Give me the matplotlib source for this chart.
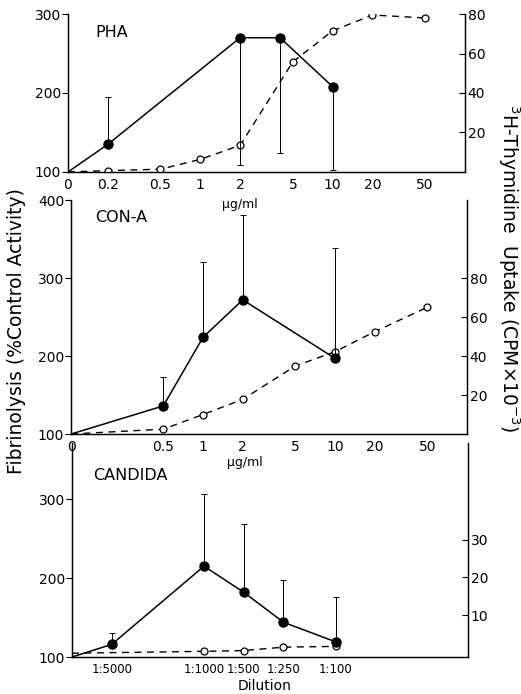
import matplotlib
matplotlib.use("Agg")
import matplotlib.pyplot as plt
import numpy as np

plt.rcParams['font.family'] = ['DejaVu Sans']

# PHA
pha_dose = [0, 0.2, 2, 4, 10]
pha_fib = [100, 135, 270, 270, 208]
pha_err_lo = [0, 0, 161, 146, 105]
pha_err_hi = [0, 60, 0, 0, 0]
pha_thy_dose = [0, 0.2, 0.5, 1, 2, 5, 10, 20, 50]
pha_thy = [0, 0.7, 1.4, 6.4, 13.5, 55.8, 71.5, 79.5, 78]
pha_ticks = [0, 0.2, 0.5, 1, 2, 5, 10, 20, 50]
pha_ticklabels = ["0", "0.2", "0.5", "1", "2", "5", "10", "20", "50"]

# CON-A
cona_dose = [0, 0.5, 1, 2, 10]
cona_fib = [100, 136, 224, 272, 197]
cona_err_hi = [0, 37, 96, 109, 141]
cona_thy_dose = [0, 0.5, 1, 2, 5, 10, 20, 50]
cona_thy = [0, 2.5, 10, 17.8, 34.9, 42.2, 52.5, 65]
cona_ticks = [0, 0.5, 1, 2, 5, 10, 20, 50]
cona_ticklabels = ["0", "0.5", "1", "2", "5", "10", "20", "50"]

# CANDIDA
cand_dil = [0, 1/5000, 1/1000, 1/500, 1/250, 1/100]
cand_fib = [100, 116, 215, 182, 144, 119]
cand_err_hi = [0, 14, 92, 86, 54, 57]
cand_thy_dil = [0, 1/1000, 1/500, 1/250, 1/100]
cand_thy = [0, 0.5, 0.7, 1.6, 1.8]
cand_ticks = [1/5000, 1/1000, 1/500, 1/250, 1/100]
cand_ticklabels = ["1:5000", "1:1000", "1:500", "1:250", "1:100"]


def zero_to(vals, z):
    v = np.array(vals, dtype=float)
    return np.where(v == 0, z, v)


def panel(rect, zero, xlim, ylim, yticks, rylim, ryticks, title, title_pos,
          dose, fib, elo, ehi, tdose, thy, ticks, ticklabels, xlabelsize=10):
    ax = fig.add_axes(rect)
    axr = ax.twinx()
    for a in (ax, axr):
        a.set_xscale('log')
        a.set_xlim(*xlim)
        a.spines['top'].set_visible(False)
        for s in a.spines.values():
            s.set_linewidth(0.9)
    ax.set_ylim(*ylim)
    axr.set_ylim(*rylim)
    ax.set_yticks(yticks)
    axr.set_yticks(ryticks)
    ax.tick_params(axis='y', direction='out', length=4, width=0.8, labelsize=10, pad=1)
    axr.tick_params(axis='y', direction='in', length=4, width=0.8, labelsize=10, pad=2)
    ax.set_xticks(zero_to(ticks, zero))
    ax.set_xticklabels(ticklabels)
    ax.minorticks_off()
    axr.minorticks_off()
    ax.tick_params(axis='x', length=0, labelsize=xlabelsize, pad=4)

    x = zero_to(dose, zero)
    ax.plot(x, fib, '-', color='black', lw=1.1, zorder=3)
    ax.plot(x[1:], fib[1:], 'o', color='black', ms=6.5, zorder=4)
    ax.errorbar(x[1:], fib[1:], yerr=[elo[1:], ehi[1:]], fmt='none',
                ecolor='black', elinewidth=0.7, capsize=2, capthick=0.7, zorder=2)

    xt = zero_to(tdose, zero)
    axr.plot(xt, thy, '--', color='black', lw=1.0, dashes=(5, 4),
             marker='o', mfc='white', mec='black', ms=5, mew=0.9,
             markevery=list(range(1, len(xt))), zorder=3)
    ax.set_zorder(axr.get_zorder() + 1)
    ax.patch.set_visible(False)
    ax.text(title_pos[0], title_pos[1], title, transform=ax.transAxes,
            fontsize=11.5, va='center')
    return ax, axr


fig = plt.figure(figsize=(5.21, 6.94), dpi=100)

ax1, ax1r = panel([0.1305, 0.7522, 0.762, 0.2276], 0.1, (0.1, 100), (100, 300),
                  [100, 200, 300], (0, 80), [20, 40, 60, 80], "PHA", (0.068, 0.88),
                  pha_dose, pha_fib, pha_err_lo, pha_err_hi,
                  pha_thy_dose, pha_thy, pha_ticks, pha_ticklabels)

ax2, ax2r = panel([0.1363, 0.3746, 0.7601, 0.3372], 0.1, (0.1, 100), (100, 400),
                  [100, 200, 300, 400], (0, 120), [20, 40, 60, 80], "CON-A", (0.06, 0.927),
                  cona_dose, cona_fib, [0] * len(cona_dose), cona_err_hi,
                  cona_thy_dose, cona_thy, cona_ticks, cona_ticklabels)

ax3, ax3r = panel([0.1382, 0.0533, 0.7601, 0.3084], 1e-4, (1e-4, 1e-1), (100, 371),
                  [100, 200, 300], (-1, 55.5), [10, 20, 30], "CANDIDA", (0.053, 0.85),
                  cand_dil, cand_fib, [0] * len(cand_dil), cand_err_hi,
                  cand_thy_dil, cand_thy, cand_ticks, cand_ticklabels, xlabelsize=8.5)

fig.text(0.461, 0.705, "µg/ml", fontsize=9, ha='center', va='center')
fig.text(0.470, 0.334, "µg/ml", fontsize=9, ha='center', va='center')
fig.text(0.508, 0.006, "Dilution", fontsize=10, ha='center')

fig.text(0.031, 0.523, "Fibrinolysis (%Control Activity)", rotation=90,
         fontsize=13.5, ha='center', va='center')
fig.text(0.977, 0.614, r"$^3$H-Thymidine  Uptake (CPM$\times$10$^{-3}$)", rotation=270,
         fontsize=13.5, ha='center', va='center')

fig.savefig("out.png", dpi=100)
